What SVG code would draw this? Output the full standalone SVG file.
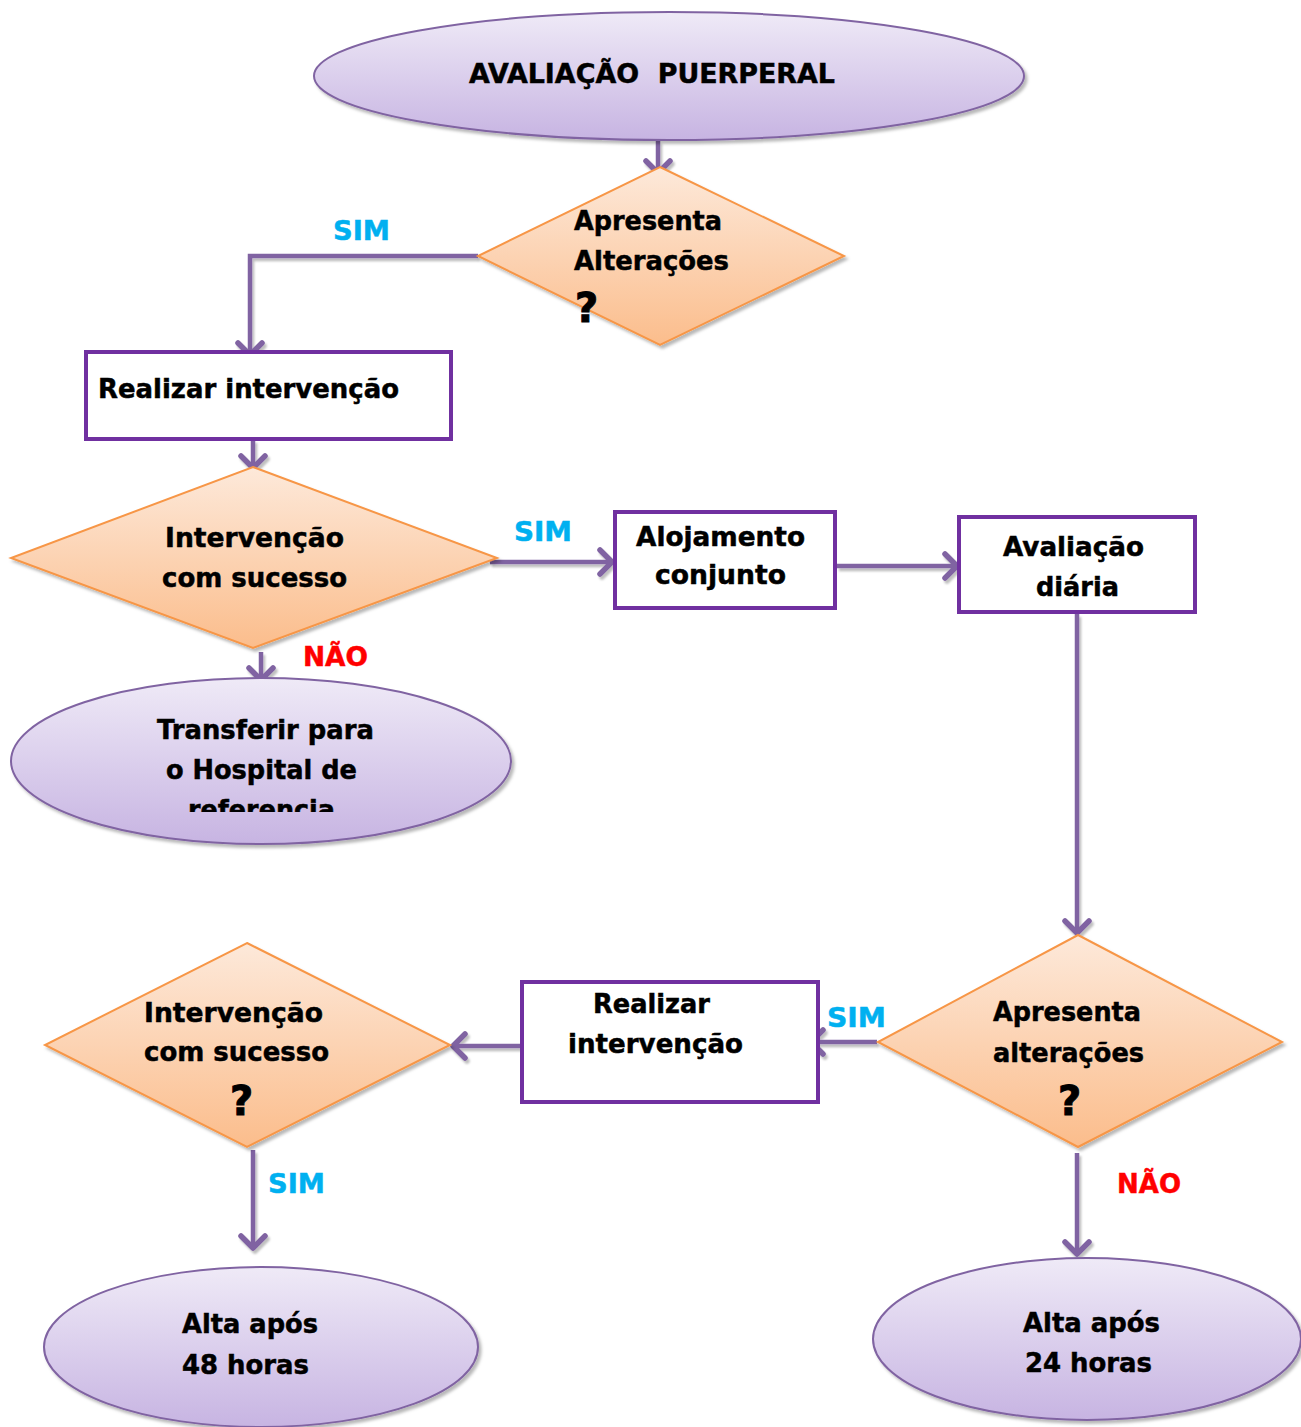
<svg xmlns="http://www.w3.org/2000/svg" width="1301" height="1427" viewBox="0 0 1301 1427">
  <defs>
    <linearGradient id="gEllipse" x1="0" y1="0" x2="0" y2="1">
      <stop offset="0" stop-color="#EFEAF7"/>
      <stop offset="1" stop-color="#C7B4E2"/>
    </linearGradient>
    <linearGradient id="gDiamond" x1="0" y1="0" x2="0" y2="1">
      <stop offset="0" stop-color="#FDE9DA"/>
      <stop offset="1" stop-color="#FBBD8C"/>
    </linearGradient>
    <filter id="shadow" x="-10%" y="-10%" width="130%" height="130%">
      <feDropShadow dx="2.5" dy="3" stdDeviation="1.5" flood-color="#000" flood-opacity="0.28"/>
    </filter>
    <!-- connectors are straight lines, so their shadow filter needs a user-space region -->
    <filter id="lineShadow" filterUnits="userSpaceOnUse" x="0" y="0" width="1301" height="1427">
      <feDropShadow dx="2" dy="3" stdDeviation="1.2" flood-color="#000" flood-opacity="0.25"/>
    </filter>
    <marker id="arrow" markerWidth="22" markerHeight="34" refX="0" refY="0" viewBox="-18 -17 22 34" orient="auto" markerUnits="userSpaceOnUse">
      <path d="M -12 -12 L 0 0 L -12 12" fill="none" stroke="#8064A2" stroke-width="5.5" stroke-linecap="round" stroke-linejoin="round"/>
    </marker>
    <clipPath id="clipRef">
      <rect x="0" y="0" width="600" height="812"/>
    </clipPath>
    <style>
      .ell { fill: url(#gEllipse); stroke: #8064A2; stroke-width: 2; filter: url(#shadow); }
      .dia { fill: url(#gDiamond); stroke: #F79646; stroke-width: 2; filter: url(#shadow); }
      .box { fill: #FFFFFF; stroke: #7030A0; stroke-width: 4; }
      .con { fill: none; stroke: #8064A2; stroke-width: 4.5; marker-end: url(#arrow); }
      text { font-family: "DejaVu Sans", Verdana, sans-serif; font-weight: bold; font-size: 27px; fill: #000; stroke: #000; stroke-width: 0.5px; }
      .q { font-size: 40px; stroke-width: 1px; }
      .sim { fill: #00B0F0; stroke: #00B0F0; }
      .nao { fill: #FF0000; stroke: #FF0000; }
    </style>
  </defs>

  <!-- connectors -->
  <g id="connectors" filter="url(#lineShadow)">
    <path class="con" d="M 658 141 L 658 173"/>
    <path class="con" d="M 478 256 L 250 256 L 250 355"/>
    <path class="con" d="M 253 440 L 253 468"/>
    <path class="con" d="M 490 562 L 612 562"/>
    <path class="con" d="M 261 652 L 261 680"/>
    <path class="con" d="M 837 566 L 957 566"/>
    <path class="con" d="M 1077 614 L 1077 933"/>
    <path class="con" d="M 877 1042 L 811 1042"/>
    <path class="con" d="M 522 1046 L 453 1046"/>
    <path class="con" d="M 253 1150 L 253 1248"/>
    <path class="con" d="M 1077 1153 L 1077 1254"/>
  </g>

  <!-- branch labels -->
  <g id="labels">
    <text class="sim" x="333" y="240" textLength="57" lengthAdjust="spacingAndGlyphs">SIM</text>
    <text class="sim" x="514" y="541" textLength="58" lengthAdjust="spacingAndGlyphs">SIM</text>
    <text class="nao" x="303" y="666" textLength="65" lengthAdjust="spacingAndGlyphs">NÃO</text>
    <text class="sim" x="827" y="1027" textLength="59" lengthAdjust="spacingAndGlyphs">SIM</text>
    <text class="sim" x="268" y="1193" textLength="57" lengthAdjust="spacingAndGlyphs">SIM</text>
    <text class="nao" x="1117" y="1193" textLength="64" lengthAdjust="spacingAndGlyphs">NÃO</text>
  </g>

  <g id="avaliacao-puerperal">
    <ellipse class="ell" cx="669" cy="76" rx="355" ry="64"/>
    <text x="469" y="83" font-size="28" textLength="366" lengthAdjust="spacingAndGlyphs" xml:space="preserve">AVALIAÇÃO  PUERPERAL</text>
  </g>

  <g id="apresenta-alteracoes-1">
    <polygon class="dia" points="660,167 844,256 660,345 478,256"/>
    <text x="574" y="230" textLength="148" lengthAdjust="spacingAndGlyphs">Apresenta</text>
    <text x="574" y="270" textLength="155" lengthAdjust="spacingAndGlyphs">Alterações</text>
    <text class="q" x="575" y="322">?</text>
  </g>

  <g id="realizar-intervencao-1">
    <rect class="box" x="86" y="352" width="365" height="87"/>
    <text x="98" y="398" textLength="301" lengthAdjust="spacingAndGlyphs">Realizar intervenção</text>
  </g>

  <g id="intervencao-sucesso-1">
    <polygon class="dia" points="253,467 497,558 253,648 11,558"/>
    <text x="165" y="547" textLength="179" lengthAdjust="spacingAndGlyphs">Intervenção</text>
    <text x="162" y="587" textLength="185" lengthAdjust="spacingAndGlyphs">com sucesso</text>
  </g>

  <g id="transferir">
    <ellipse class="ell" cx="261" cy="761" rx="250" ry="83"/>
    <text x="157" y="739" textLength="217" lengthAdjust="spacingAndGlyphs">Transferir para</text>
    <text x="166" y="779" textLength="191" lengthAdjust="spacingAndGlyphs">o Hospital de</text>
    <text x="188" y="819" textLength="147" lengthAdjust="spacingAndGlyphs" clip-path="url(#clipRef)">referencia</text>
  </g>

  <g id="alojamento-conjunto">
    <rect class="box" x="615" y="512" width="220" height="96"/>
    <text x="636" y="546" textLength="169" lengthAdjust="spacingAndGlyphs">Alojamento</text>
    <text x="655" y="584" textLength="131" lengthAdjust="spacingAndGlyphs">conjunto</text>
  </g>

  <g id="avaliacao-diaria">
    <rect class="box" x="959" y="517" width="236" height="95"/>
    <text x="1003" y="556" textLength="141" lengthAdjust="spacingAndGlyphs">Avaliação</text>
    <text x="1036" y="596" textLength="83" lengthAdjust="spacingAndGlyphs">diária</text>
  </g>

  <g id="apresenta-alteracoes-2">
    <polygon class="dia" points="1078,935 1282,1042 1078,1147 878,1042"/>
    <text x="993" y="1021" textLength="148" lengthAdjust="spacingAndGlyphs">Apresenta</text>
    <text x="993" y="1062" textLength="151" lengthAdjust="spacingAndGlyphs">alterações</text>
    <text class="q" x="1058" y="1115">?</text>
  </g>

  <g id="realizar-intervencao-2">
    <rect class="box" x="522" y="982" width="296" height="120"/>
    <text x="593" y="1013" textLength="117" lengthAdjust="spacingAndGlyphs">Realizar</text>
    <text x="568" y="1053" textLength="175" lengthAdjust="spacingAndGlyphs">intervenção</text>
  </g>

  <g id="intervencao-sucesso-2">
    <polygon class="dia" points="247,943 450,1045 247,1147 45,1045"/>
    <text x="144" y="1022" textLength="179" lengthAdjust="spacingAndGlyphs">Intervenção</text>
    <text x="144" y="1061" textLength="185" lengthAdjust="spacingAndGlyphs">com sucesso</text>
    <text class="q" x="230" y="1115">?</text>
  </g>

  <g id="alta-48">
    <ellipse class="ell" cx="261" cy="1347" rx="217" ry="80"/>
    <text x="182" y="1333" textLength="136" lengthAdjust="spacingAndGlyphs">Alta após</text>
    <text x="182" y="1374" textLength="127" lengthAdjust="spacingAndGlyphs">48 horas</text>
  </g>

  <g id="alta-24">
    <ellipse class="ell" cx="1087" cy="1339" rx="214" ry="81"/>
    <text x="1023" y="1332" textLength="137" lengthAdjust="spacingAndGlyphs">Alta após</text>
    <text x="1025" y="1372" textLength="127" lengthAdjust="spacingAndGlyphs">24 horas</text>
  </g>
</svg>
